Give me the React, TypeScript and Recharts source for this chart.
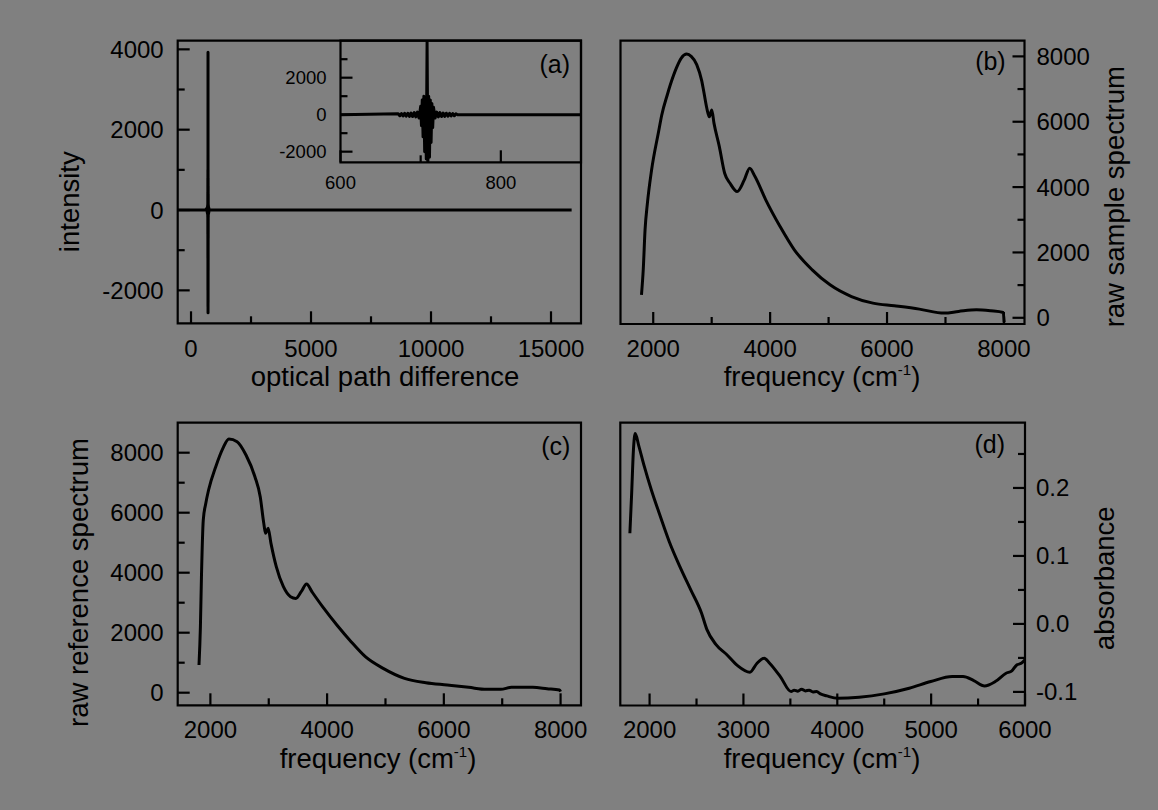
import React from 'react';
import { LineChart, Line, XAxis, YAxis, ReferenceArea } from 'recharts';

const W = 1158;
const H = 810;
const FONT = '"Liberation Sans", Arial, Helvetica, sans-serif';
const BG = '#808080';
const INK = '#000000';

// ---------- (a) interferogram ----------
const opd = [
  -550, 600,
  672, 674, 676, 678, 680, 682, 684, 686, 688, 690, 692, 694, 696, 698,
  700, 701, 702, 703, 704, 705, 706, 707, 708, 709, 710, 711, 712, 713, 714, 715, 716,
  718, 720, 722, 724, 726, 728, 730, 732, 734, 736, 738, 740, 742, 744, 746,
  900, 15860,
];
const intensity = [
  0, 0,
  50, -60, 60, -70, 70, -80, 80, -90, 90, -100, 110, -120, 140, -180,
  450, -600, 800, -1200, 1000, -2000, 900, -2400, 3925, -2555, 1000, -2300, 800, -1500, 600, -700, 400,
  -180, 140, -120, 110, -100, 90, -90, 80, -80, 70, -70, 60, -60, 50, 0,
  0, 0,
];

// ---------- (b) raw sample spectrum ----------
const sampleFreq = [
  1799, 1830, 1860, 1900, 1970, 2092, 2145, 2245, 2287, 2397, 2480, 2573, 2650, 2744, 2830,
  2870, 2916, 2960, 3001, 3040, 3131, 3222, 3314, 3436, 3558, 3650, 3741, 3925, 4170, 4414,
  4720, 5025, 5392, 5759, 6125, 6553, 6980, 7224, 7530, 7775, 7989, 8005,
];
const sampleValue = [
  703, 1500, 2691, 3500, 4500, 5700, 6200, 6850, 7100, 7650, 7950, 8070, 8000, 7750, 7250,
  6870, 6420, 6150, 6360, 5950, 5239, 4424, 4118, 3863, 4220, 4577, 4322, 3609, 2793, 2080,
  1468, 1009, 651, 449, 367, 265, 143, 194, 245, 214, 163, -140,
];

// ---------- (c) raw reference spectrum ----------
const refFreq = [
  1805, 1829, 1847, 1878, 1920, 1969, 2092, 2214, 2317, 2458, 2610, 2763, 2854, 2915, 2946,
  2989, 3038, 3129, 3251, 3373, 3465, 3556, 3648, 3739, 3922, 4167, 4411, 4655, 4960, 5326,
  5692, 6058, 6425, 6730, 6974, 7157, 7523, 7768, 7982, 8000,
];
const refValue = [
  922, 2200, 3867, 5756, 6300, 6756, 7533, 8144, 8456, 8367, 7922, 7200, 6533, 5644, 5311,
  5478, 4978, 4200, 3533, 3200, 3144, 3367, 3622, 3367, 2867, 2256, 1700, 1200, 811, 478,
  333, 256, 178, 111, 111, 178, 178, 133, 89, 33,
];

// ---------- (d) absorbance ----------
const absFreq = [
  1790, 1809, 1828, 1847, 1885, 1943, 2019, 2115, 2210, 2324, 2439, 2553, 2610, 2706, 2821,
  2935, 3069, 3145, 3221, 3279, 3393, 3508, 3540, 3580, 3620, 3660, 3700, 3740, 3780, 3820,
  3889, 4004, 4233, 4500, 4767, 4996, 5225, 5340, 5454, 5569, 5683, 5798, 5860, 5912, 5960,
  6000,
];
const absValue = [
  0.1333, 0.192, 0.256, 0.28, 0.262, 0.232, 0.197, 0.158, 0.121, 0.084, 0.05, 0.016, -0.008, -0.03, -0.045,
  -0.061, -0.0711, -0.0578, -0.0505, -0.0578, -0.0775, -0.0995, -0.0975, -0.099, -0.096, -0.0985, -0.0975, -0.1, -0.0995, -0.103,
  -0.1059, -0.1093, -0.1078, -0.1029, -0.0946, -0.0848, -0.0775, -0.0775, -0.0833, -0.0912, -0.0848, -0.0725, -0.069, -0.0603, -0.058,
  -0.0529,
];

// ---------- ticks ----------
const opdTicks = [0, 2500, 5000, 7500, 10000, 12500, 15000];
const intensityTicks = [-2000, -1000, 0, 1000, 2000, 3000, 4000];
const insetXTicks = [600, 700, 800];
const insetYTicks = [-2000, -1000, 0, 1000, 2000, 3000];
const freqTicks = [2000, 3000, 4000, 5000, 6000, 7000, 8000];
const spectrumTicks = [0, 1000, 2000, 3000, 4000, 5000, 6000, 7000, 8000];
const absFreqTicks = [2000, 2500, 3000, 3500, 4000, 4500, 5000, 5500, 6000];
const absTicks = [-0.1, -0.05, 0, 0.05, 0.1, 0.15, 0.2, 0.25];

const toRows = (xs: number[], ys: number[]) => xs.map((x, i) => ({ x, y: ys[i] }));

const isMajor = (v: number, step: number) => Math.abs(v / step - Math.round(v / step)) < 1e-6;
const fmtInt = (v: number) => String(Math.round(v));
const fmt1 = (v: number) => v.toFixed(1);

type Box = { left: number; right: number; top: number; bottom: number };

type PanelProps = {
  rows: { x: number; y: number }[];
  box: Box;
  xDomain: [number, number];
  yDomain: [number, number];
  xTicks: number[];
  yTicks: number[];
  xMajor: number;
  yMajor: number;
  xFmt: (v: number) => string;
  yFmt: (v: number) => string;
  yRight?: boolean;
  fontSize: number;
  xLabelDy: number;
  yLabelGap: number;
  curve?: 'linear' | 'monotone';
};

function Panel(p: PanelProps) {
  const YW = 40;
  const XH = 30;
  const majorLen = 12;
  const minorLen = 7;
  const margin = {
    top: p.box.top,
    left: p.yRight ? p.box.left : p.box.left - YW,
    right: p.yRight ? W - p.box.right - YW : W - p.box.right,
    bottom: H - p.box.bottom - XH,
  };

  const xTick = (t: any) => {
    const v = t.payload.value;
    const major = isMajor(v, p.xMajor);
    const x = t.x;
    const y = t.y;
    return (
      <g>
        <line x1={x} x2={x} y1={y} y2={y - (major ? majorLen : minorLen)} stroke={INK} strokeWidth={2.2} />
        {major && (
          <text x={x} y={y + p.xLabelDy} textAnchor="middle" dominantBaseline="central" fontSize={p.fontSize} fontFamily={FONT} fill={INK}>
            {p.xFmt(v)}
          </text>
        )}
      </g>
    );
  };

  const yTick = (t: any) => {
    const v = t.payload.value;
    const major = isMajor(v, p.yMajor);
    const x = t.x;
    const y = t.y;
    const dir = p.yRight ? -1 : 1;
    return (
      <g>
        <line x1={x} x2={x + dir * (major ? majorLen : minorLen)} y1={y} y2={y} stroke={INK} strokeWidth={2.2} />
        {major && (
          <text
            x={p.yRight ? x + p.yLabelGap : x - p.yLabelGap}
            y={y}
            textAnchor={p.yRight ? 'start' : 'end'}
            dominantBaseline="central"
            fontSize={p.fontSize}
            fontFamily={FONT}
            fill={INK}
          >
            {p.yFmt(v)}
          </text>
        )}
      </g>
    );
  };

  return (
    <div style={{ position: 'absolute', left: 0, top: 0, width: W, height: H }}>
      <LineChart width={W} height={H} data={p.rows} margin={margin}>
        <XAxis
          dataKey="x"
          type="number"
          domain={p.xDomain}
          allowDataOverflow
          ticks={p.xTicks}
          interval={0}
          height={XH}
          tickSize={0}
          tickMargin={0}
          tickLine={false}
          axisLine={false}
          tick={xTick}
        />
        <YAxis
          type="number"
          domain={p.yDomain}
          allowDataOverflow
          ticks={p.yTicks}
          interval={0}
          width={YW}
          orientation={p.yRight ? 'right' : 'left'}
          tickSize={0}
          tickMargin={0}
          tickLine={false}
          axisLine={false}
          tick={yTick}
        />
        <ReferenceArea
          x1={p.xDomain[0]}
          x2={p.xDomain[1]}
          y1={p.yDomain[0]}
          y2={p.yDomain[1]}
          fill="none"
          fillOpacity={0}
          stroke={INK}
          strokeWidth={2.2}
          ifOverflow="visible"
        />
        <Line
          dataKey="y"
          type={p.curve ?? 'linear'}
          dot={false}
          activeDot={false}
          stroke={INK}
          strokeWidth={3}
          strokeLinejoin="round"
          isAnimationActive={false}
        />
      </LineChart>
    </div>
  );
}

const TFS = 27.5;

function FreqTitle({ x, y }: { x: number; y: number }) {
  return (
    <text x={x} y={y} textAnchor="middle" fontSize={TFS} fontFamily={FONT} fill={INK}>
      frequency (cm
      <tspan fontSize={15} dy={-11}>-1</tspan>
      <tspan dy={11}>)</tspan>
    </text>
  );
}

function VTitle({ x, y, text }: { x: number; y: number; text: string }) {
  return (
    <text x={x} y={y} transform={`rotate(-90 ${x} ${y})`} textAnchor="middle" fontSize={TFS} fontFamily={FONT} fill={INK}>
      {text}
    </text>
  );
}

function Tag({ x, y, text }: { x: number; y: number; text: string }) {
  return (
    <text x={x} y={y} textAnchor="end" fontSize={25} fontFamily={FONT} fill={INK}>
      {text}
    </text>
  );
}

export default function App() {
  const interRows = toRows(opd, intensity);
  return (
    <div style={{ position: 'absolute', left: 0, top: 0, width: W, height: H, background: BG, overflow: 'hidden' }}>
      {/* (a) main */}
      <Panel
        rows={interRows}
        box={{ left: 177.7, right: 581, top: 40.7, bottom: 323.3 }}
        xDomain={[-555, 16250]}
        yDomain={[-2820, 4215]}
        xTicks={opdTicks}
        yTicks={intensityTicks}
        xMajor={5000}
        yMajor={2000}
        xFmt={fmtInt}
        yFmt={fmtInt}
        fontSize={24}
        xLabelDy={25}
        yLabelGap={14}
      />
      {/* (a) inset */}
      <Panel
        rows={interRows}
        box={{ left: 340.5, right: 581, top: 40.7, bottom: 162.3 }}
        xDomain={[600, 900]}
        yDomain={[-2575, 4000]}
        xTicks={insetXTicks}
        yTicks={insetYTicks}
        xMajor={200}
        yMajor={2000}
        xFmt={fmtInt}
        yFmt={fmtInt}
        fontSize={18.5}
        xLabelDy={20}
        yLabelGap={14}
      />
      {/* (b) */}
      <Panel
        rows={toRows(sampleFreq, sampleValue)}
        box={{ left: 620.5, right: 1024.5, top: 40.7, bottom: 324 }}
        xDomain={[1440, 8352]}
        yDomain={[-190, 8480]}
        xTicks={freqTicks}
        yTicks={spectrumTicks}
        xMajor={2000}
        yMajor={2000}
        xFmt={fmtInt}
        yFmt={fmtInt}
        yRight
        fontSize={24}
        xLabelDy={24}
        yLabelGap={12}
        curve="monotone"
      />
      {/* (c) */}
      <Panel
        rows={toRows(refFreq, refValue)}
        box={{ left: 177.7, right: 581, top: 422.7, bottom: 705.3 }}
        xDomain={[1440, 8350]}
        yDomain={[-420, 9000]}
        xTicks={freqTicks}
        yTicks={spectrumTicks}
        xMajor={2000}
        yMajor={2000}
        xFmt={fmtInt}
        yFmt={fmtInt}
        fontSize={24}
        xLabelDy={24}
        yLabelGap={14}
        curve="monotone"
      />
      {/* (d) */}
      <Panel
        rows={toRows(absFreq, absValue)}
        box={{ left: 620.3, right: 1025, top: 422.7, bottom: 705.5 }}
        xDomain={[1688, 6000]}
        yDomain={[-0.12, 0.296]}
        xTicks={absFreqTicks}
        yTicks={absTicks}
        xMajor={1000}
        yMajor={0.1}
        xFmt={fmtInt}
        yFmt={fmt1}
        yRight
        fontSize={24}
        xLabelDy={24}
        yLabelGap={11}
        curve="monotone"
      />
      <svg width={W} height={H} style={{ position: 'absolute', left: 0, top: 0, pointerEvents: 'none' }}>
        <VTitle x={79} y={201.7} text="intensity" />
        <text x={385} y={386} textAnchor="middle" fontSize={TFS} fontFamily={FONT} fill={INK}>
          optical path difference
        </text>
        <VTitle x={1124} y={196.7} text="raw sample spectrum" />
        <FreqTitle x={822} y={386} />
        <VTitle x={88} y={582.5} text="raw reference spectrum" />
        <FreqTitle x={378} y={768} />
        <VTitle x={1114} y={578.3} text="absorbance" />
        <FreqTitle x={822} y={768} />
        <Tag x={570} y={73} text="(a)" />
        <Tag x={1005.7} y={70} text="(b)" />
        <Tag x={570.4} y={455} text="(c)" />
        <Tag x={1005} y={453} text="(d)" />
      </svg>
    </div>
  );
}
